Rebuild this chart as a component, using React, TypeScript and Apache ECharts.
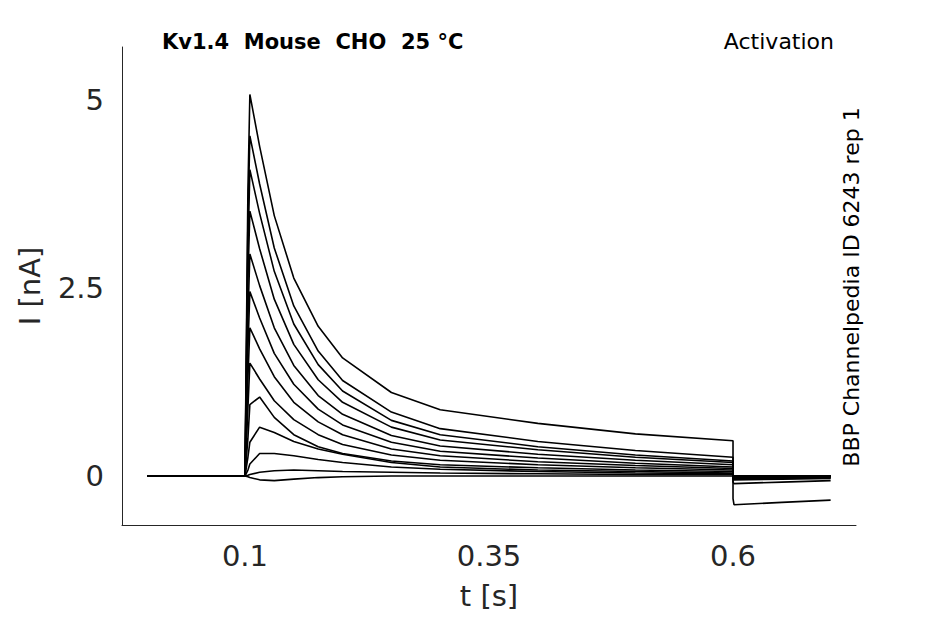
import { useEffect, useRef } from 'react';
import * as echarts from 'echarts';

// sample times [s]; 0.6 appears twice for the step at pulse end
const T = [0, 0.099, 0.1, 0.103, 0.105, 0.115, 0.13, 0.15, 0.175, 0.2, 0.25, 0.3, 0.4, 0.5, 0.6, 0.6, 0.601, 0.65, 0.7];

// current traces [nA], one per voltage step
const TR1 = [0, 0, 0, 3.8, 5.07, 4.38, 3.46, 2.63, 1.99, 1.57, 1.11, 0.88, 0.70, 0.56, 0.47, -0.3, -0.38, -0.35, -0.32];
const TR2 = [0, 0, 0, 3.4, 4.52, 3.88, 3.03, 2.26, 1.66, 1.27, 0.85, 0.63, 0.46, 0.34, 0.25, -0.08, -0.1, -0.08, -0.06];
const TR3 = [0, 0, 0, 3.0, 4.07, 3.49, 2.72, 2.02, 1.48, 1.13, 0.74, 0.55, 0.39, 0.28, 0.2, -0.04, -0.05, -0.04, -0.03];
const TR4 = [0, 0, 0, 2.6, 3.52, 3.02, 2.35, 1.75, 1.28, 0.98, 0.65, 0.48, 0.35, 0.25, 0.18, -0.03, -0.04, -0.03, -0.02];
const TR5 = [0, 0, 0, 2.1, 2.95, 2.53, 1.97, 1.47, 1.07, 0.82, 0.54, 0.40, 0.29, 0.21, 0.15, -0.02, -0.03, -0.02, -0.02];
const TR6 = [0, 0, 0, 1.7, 2.45, 2.10, 1.63, 1.22, 0.89, 0.68, 0.45, 0.33, 0.24, 0.17, 0.12, -0.02, -0.02, -0.02, -0.01];
const TR7 = [0, 0, 0, 1.3, 1.97, 1.69, 1.32, 0.98, 0.72, 0.55, 0.36, 0.27, 0.19, 0.14, 0.1, -0.01, -0.02, -0.01, -0.01];
const TR8 = [0, 0, 0, 0.9, 1.5, 1.29, 1.0, 0.75, 0.55, 0.42, 0.28, 0.21, 0.15, 0.11, 0.08, -0.01, -0.01, -0.01, 0];
const TR9 = [0, 0, 0, 0.5, 0.95, 1.05, 0.78, 0.55, 0.39, 0.30, 0.20, 0.15, 0.11, 0.08, 0.06, 0, -0.01, 0, 0];
const TR10 = [0, 0, 0, 0.25, 0.45, 0.65, 0.58, 0.46, 0.36, 0.29, 0.18, 0.12, 0.08, 0.06, 0.04, 0, 0, 0, 0];
const TR11 = [0, 0, 0, 0.08, 0.16, 0.3, 0.3, 0.27, 0.22, 0.18, 0.12, 0.09, 0.06, 0.04, 0.03, 0, 0, 0, 0];
const TR12 = [0, 0, 0, 0.01, 0.02, 0.05, 0.07, 0.08, 0.07, 0.06, 0.05, 0.04, 0.03, 0.02, 0.02, 0, 0, 0, 0];
const TR13 = [0, 0, 0, -0.01, -0.02, -0.05, -0.06, -0.04, -0.02, -0.01, 0, 0, 0, 0, 0, 0, 0, 0, 0];
const TRACES = [TR1, TR2, TR3, TR4, TR5, TR6, TR7, TR8, TR9, TR10, TR11, TR12, TR13];

const X_TICKS = [0.1, 0.35, 0.6];
const Y_TICKS = [0, 2.5, 5];

const AXIS = '#262626';

export default function App() {
  const ref = useRef<HTMLDivElement>(null);

  useEffect(() => {
    if (!ref.current) return;
    document.body.style.margin = '0';
    const chart = echarts.init(ref.current, undefined, { renderer: 'svg' });
    chart.setOption({
      animation: false,
      textStyle: { fontFamily: 'DejaVu Sans' },
      grid: { left: 122, right: 89, top: 47, bottom: 99 },
      title: [
        { text: 'Kv1.4  Mouse  CHO  25 °C', left: 157, top: 26, textStyle: { fontSize: 21, fontWeight: 'bold', color: '#000' } },
        { text: 'Activation', right: 106, top: 25, textStyle: { fontSize: 22, fontWeight: 'normal', color: '#000' } },
      ],
      graphic: [{
        type: 'text', x: 862, y: 287, rotation: Math.PI / 2,
        style: { text: 'BBP Channelpedia ID 6243 rep 1', fontSize: 22, fill: '#000', textAlign: 'center', textVerticalAlign: 'bottom', fontFamily: 'DejaVu Sans' },
      }],
      xAxis: {
        type: 'value', min: -0.026, max: 0.726,
        name: 't [s]', nameLocation: 'middle', nameGap: 56, nameTextStyle: { fontSize: 29, color: AXIS },
        axisLine: { onZero: false, lineStyle: { color: AXIS } },
        axisTick: { show: false },
        splitLine: { show: false },
        axisLabel: { customValues: X_TICKS, fontSize: 29, color: AXIS, margin: 16 },
      },
      yAxis: {
        type: 'value', min: -0.65, max: 5.7,
        name: 'I [nA]', nameLocation: 'middle', nameGap: 78, nameTextStyle: { fontSize: 29, color: AXIS },
        axisLine: { show: true, onZero: false, lineStyle: { color: AXIS } },
        axisTick: { show: false },
        splitLine: { show: false },
        axisLabel: { customValues: Y_TICKS, fontSize: 29, color: AXIS, margin: 18 },
      },
      series: TRACES.map((tr) => ({
        type: 'line', showSymbol: false, silent: true,
        lineStyle: { color: '#000', width: 1.6 },
        data: tr.map((v, i) => [T[i], v]),
      })),
    });
    return () => chart.dispose();
  }, []);

  return <div ref={ref} style={{ width: 945, height: 624 }} />;
}
